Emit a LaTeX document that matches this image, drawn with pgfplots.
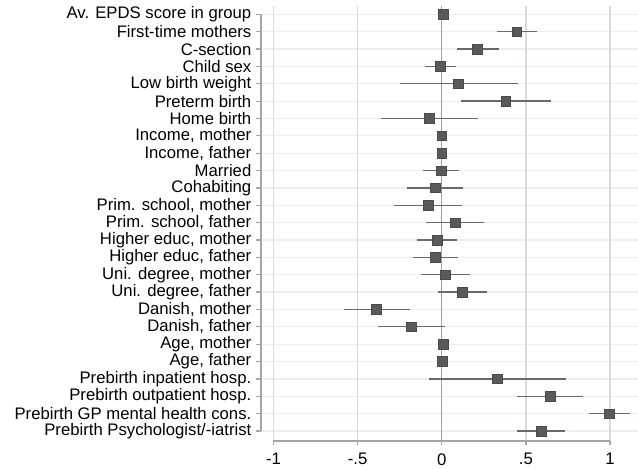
\documentclass[border=0pt]{standalone}
\usepackage{pgfplots}
\pgfplotsset{compat=1.18}
\usepackage{pgfplotstable}
\usepackage{fontspec}
\setmainfont{Liberation Sans}
\definecolor{hgrid}{RGB}{232,240,241}
\definecolor{vgrid}{RGB}{218,218,218}
\definecolor{zline}{RGB}{160,160,160}
\definecolor{axl}{RGB}{165,165,165}
\definecolor{cicol}{RGB}{105,105,105}
\definecolor{mfill}{RGB}{90,90,90}
\definecolor{mdraw}{RGB}{75,75,75}

\pgfplotstableread{
y x lo hi
0 0.010 0.010 0.010
1 0.446 0.331 0.564
2 0.212 0.089 0.339
3 -0.010 -0.101 0.085
4 0.097 -0.251 0.451
5 0.380 0.113 0.650
6 -0.073 -0.360 0.218
7 0.000 0.000 0.000
8 0.000 0.000 0.000
9 -0.004 -0.113 0.105
10 -0.040 -0.204 0.129
11 -0.079 -0.285 0.123
12 0.079 -0.093 0.253
13 -0.028 -0.150 0.093
14 -0.040 -0.170 0.097
15 0.022 -0.123 0.168
16 0.123 -0.020 0.271
17 -0.390 -0.582 -0.188
18 -0.180 -0.378 0.018
19 0.008 0.008 0.008
20 0.002 0.002 0.002
21 0.329 -0.075 0.737
22 0.644 0.446 0.842
23 0.994 0.877 1.119
24 0.590 0.450 0.731
}\coefs

\begin{document}
\begin{tikzpicture}
\path[use as bounding box] (0,0) rectangle (638bp,469bp);
\begin{axis}[
  at={(261bp,28.3bp)}, anchor=south west,
  scale only axis, width=377bp, height=434.7bp,
  xmin=-1.074, xmax=1.166,
  ymin=-0.48, ymax=24.56, y dir=reverse,
  axis line style={draw=none},
  xtick={-1,-0.5,0,0.5,1},
  xticklabels={-1,-.5,0,.5,1},
  ytick={0,...,24},
  yticklabels={Av. EPDS score in group, First-time mothers, C-section, Child sex, Low birth weight, Preterm birth, Home birth, {Income, mother}, {Income, father}, Married, Cohabiting, {Prim. school, mother}, {Prim. school, father}, {Higher educ, mother}, {Higher educ, father}, {Uni. degree, mother}, {Uni. degree, father}, {Danish, mother}, {Danish, father}, {Age, mother}, {Age, father}, Prebirth inpatient hosp., Prebirth outpatient hosp., Prebirth GP mental health cons., Prebirth Psychologist/-iatrist},
  xtick pos=lower, ytick pos=left,
  tick align=outside, major tick length=4.5bp,
  tick style={draw=axl, line width=1.2bp},
  ticklabel style={font=\fontsize{16.7bp}{19bp}\selectfont, text=black},
  yticklabel style={inner sep=0pt, xshift=-5bp},
  xticklabel style={inner sep=0pt, yshift=-8bp},
  clip=false,
]
\pgfplotsinvokeforeach{0,...,24}{
  \draw[hgrid, line width=1.2bp] (axis cs:-1.074,#1) -- (axis cs:1.166,#1);
}
\pgfplotsinvokeforeach{-1,-0.5,0.5,1}{
  \draw[vgrid, line width=1.2bp] (axis cs:#1,-0.48) -- (axis cs:#1,24.56);
}
\draw[zline, line width=1.3bp] (axis cs:0,-0.48) -- (axis cs:0,24.56);
\draw[axl, line width=1.6bp] (axis cs:-1.074,0) -- (axis cs:-1.074,24);
\draw[axl, line width=1.6bp] (axis cs:-1,24.56) -- (axis cs:1,24.56);
\addplot[only marks, mark=square*, mark size=4.8bp,
  mark options={fill=mfill, draw=mdraw, line width=0.5bp},
  error bars/.cd, x dir=both, x explicit,
  error bar style={draw=cicol, line width=1.3bp}, error mark=none]
  table[x=x, y=y,
    x error plus expr=\thisrow{hi}-\thisrow{x},
    x error minus expr=\thisrow{x}-\thisrow{lo}] {\coefs};
\end{axis}
\end{tikzpicture}
\end{document}
